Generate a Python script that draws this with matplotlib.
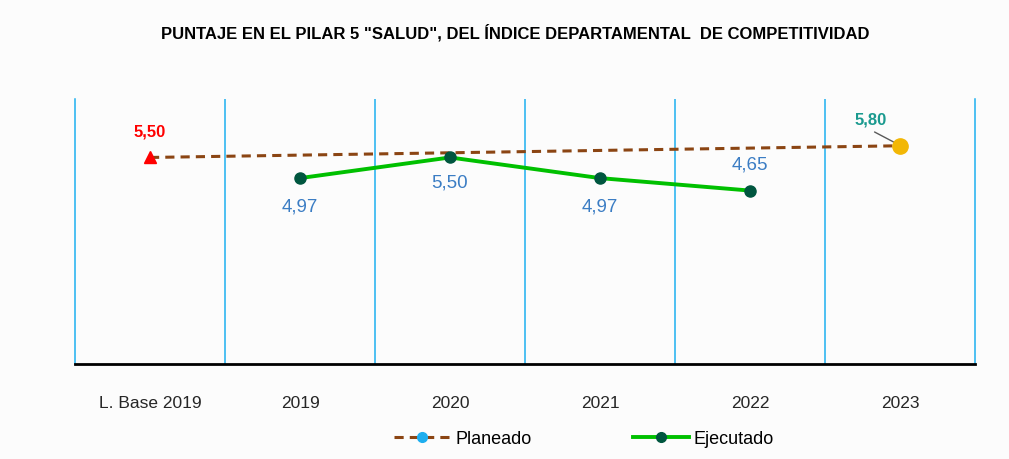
import numpy as np
import matplotlib
matplotlib.use("Agg")
import matplotlib.pyplot as plt
from matplotlib.lines import Line2D

categorias = ["L. Base 2019", "2019", "2020", "2021", "2022", "2023"]
planeado = [5.50, np.nan, np.nan, np.nan, np.nan, 5.80]
ejecutado = [np.nan, 4.97, 5.50, 4.97, 4.65, np.nan]
etiquetas_ejec = ["4,97", "5,50", "4,97", "4,65"]

fondo = "#fcfcfc"
fig = plt.figure(figsize=(10.09, 4.6), dpi=100, facecolor=fondo)
ax = fig.add_axes([75/1009, 1-365/460, 900/1009, 265/460], facecolor=fondo)

x = np.arange(len(categorias))
fam = ["Liberation Sans", "DejaVu Sans"]

# linea planeada: solo los dos extremos, unidos
xp = [i for i, v in enumerate(planeado) if not np.isnan(v)]
yp = [planeado[i] for i in xp]
ax.plot(xp, yp, color="#8B4513", lw=2.2, ls=(0, (3, 2)), zorder=3)
ax.plot(xp[0], yp[0], marker="^", color="red", ms=9, zorder=4, clip_on=False)
ax.plot(xp[-1], yp[-1], marker="o", color="#F2B705", ms=11, zorder=4, clip_on=False)

# linea ejecutada
xe = [i for i, v in enumerate(ejecutado) if not np.isnan(v)]
ye = [ejecutado[i] for i in xe]
ax.plot(xe, ye, color="#00C000", lw=2.8, marker="o", ms=8,
        mfc="#00563F", mec="#00563F", zorder=5)

# etiquetas (desplazamientos en puntos)
desp = [-20, -18, -20, 19]
for xi, yi, t, d in zip(xe, ye, etiquetas_ejec, desp):
    ax.annotate(t, (xi, yi), xytext=(0, d), textcoords="offset points",
                ha="center", va="center", color="#3B7DC4", fontsize=13.5, family=fam)
ax.annotate("5,50", (xp[0], yp[0]), xytext=(0, 19), textcoords="offset points",
            ha="center", va="center", color="red", fontsize=12, fontweight="bold", family=fam)
ax.annotate("5,80", (xp[-1], yp[-1]), xytext=(-21, 19), textcoords="offset points",
            ha="center", va="center", color="#1A9A8F", fontsize=12, fontweight="bold", family=fam)
ax.annotate("", (xp[-1] - 0.01, yp[-1] + 0.03), xytext=(-19, 10), textcoords="offset points",
            arrowprops=dict(arrowstyle="-", color="#595959", lw=1))

ax.set_xlim(-0.5, len(categorias) - 0.5)
ax.set_ylim(0.2, 7)
ax.set_yticks([])
ax.set_xticks(x)
ax.set_xticklabels(categorias, fontsize=12.5, family=fam)
ax.tick_params(axis="x", length=0, pad=22, colors="#262626")

for b in np.arange(0.5, len(categorias) - 0.5, 1):
    ax.axvline(b, color="#1EB0F0", lw=1.1, zorder=1)
ax.spines["top"].set_visible(False)
ax.spines["left"].set_color("#1EB0F0")
ax.spines["right"].set_color("#1EB0F0")
ax.spines["left"].set_linewidth(1.1)
ax.spines["right"].set_linewidth(1.1)
ax.spines["bottom"].set_color("black")
ax.spines["bottom"].set_linewidth(2)

fig.text(515/1009, 1-33/460, 'PUNTAJE EN EL PILAR 5 "SALUD", DEL ÍNDICE DEPARTAMENTAL  DE COMPETITIVIDAD',
         ha="center", va="center", fontsize=12, fontweight="bold", family=fam)

h1 = Line2D([], [], color="#8B4513", lw=2.2, ls=(0, (3, 2)), marker="o", ms=7,
            mfc="#1EAEEF", mec="#1EAEEF")
h2 = Line2D([], [], color="#00C000", lw=2.8, marker="o", ms=7, mfc="#00563F", mec="#00563F")
fig.legend([h1, h2], ["Planeado", "Ejecutado"], loc="center", bbox_to_anchor=(584/1009, 1-440/460),
           ncol=2, frameon=False, handlelength=3.1, handletextpad=0.3, columnspacing=5.6,
           prop={"family": fam, "size": 13})

fig.savefig("out.png", dpi=100, facecolor=fondo)
